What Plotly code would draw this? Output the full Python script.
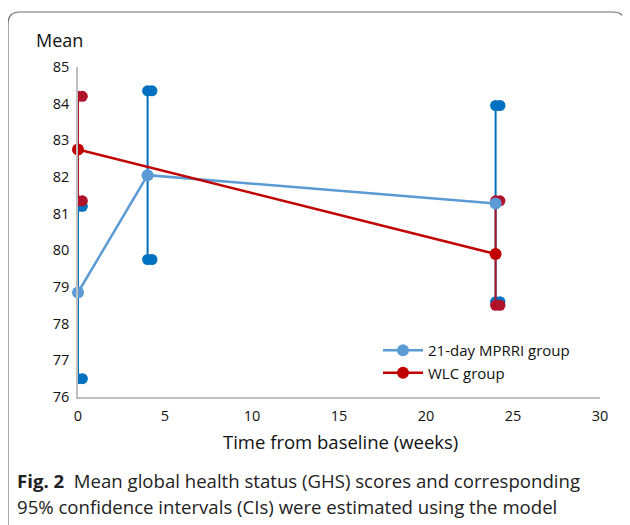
import plotly.graph_objects as go

# Data
weeks_mprri = [0, 4, 24]
mean_mprri = [78.85, 82.05, 81.28]
ci_low_mprri = [76.5, 79.75, 78.6]
ci_high_mprri = [81.2, 84.35, 83.95]

weeks_wlc = [0, 24]
mean_wlc = [82.75, 79.9]
ci_low_wlc = [81.35, 78.5]
ci_high_wlc = [84.2, 81.35]

x_ticks = [0, 5, 10, 15, 20, 25, 30]
y_ticks = [76, 77, 78, 79, 80, 81, 82, 83, 84, 85]

BLUE_MEAN = "#5B9BD5"
BLUE_CI = "#0070C0"
RED = "#C00000"
RED_CI = "#B0122A"
FONT = "Open Sans"

fig = go.Figure()


def add_ci(xs, lows, highs, color, offset=0.25):
    lx, ly = [], []
    for x, lo, hi in zip(xs, lows, highs):
        lx += [x, x, None]
        ly += [lo, hi, None]
    fig.add_trace(go.Scatter(x=lx, y=ly, mode="lines", line=dict(color=color, width=2),
                             showlegend=False, hoverinfo="skip"))
    mx, my = [], []
    for x, lo, hi in zip(xs, lows, highs):
        mx += [x, x + offset, x, x + offset]
        my += [lo, lo, hi, hi]
    fig.add_trace(go.Scatter(x=mx, y=my, mode="markers",
                             marker=dict(color=color, size=11),
                             showlegend=False, hoverinfo="skip", cliponaxis=True))


add_ci(weeks_mprri, ci_low_mprri, ci_high_mprri, BLUE_CI)
add_ci(weeks_wlc, ci_low_wlc, ci_high_wlc, RED_CI)

fig.add_trace(go.Scatter(x=weeks_mprri, y=mean_mprri, mode="lines+markers",
                         name="21-day MPRRI group",
                         line=dict(color=BLUE_MEAN, width=2.5),
                         marker=dict(color=BLUE_MEAN, size=12), cliponaxis=False))
fig.add_trace(go.Scatter(x=weeks_wlc, y=mean_wlc, mode="lines+markers",
                         name="WLC group",
                         line=dict(color=RED, width=2.5),
                         marker=dict(color=RED, size=12), cliponaxis=False))

# page has an 8px body margin; target coordinates are page pixels
OFF = 8
W, H = 630 - OFF, 525 - OFF
PL, PR, PT, PB = 78, 600, 67, 397  # plot area in page pixels
L, R, T, B = PL - OFF, 630 - PR, PT - OFF, 525 - PB
pw, ph = PR - PL, PB - PT


def px(x):
    return (x - PL) / pw


def py(y):
    return (PB - y) / ph


# rounded frame
x0, x1, y0, y1, r = 8, 625, 12, 545, 12
path = (f"M {px(x0)},{py(y1)} L {px(x0)},{py(y0 + r)} "
        f"Q {px(x0)},{py(y0)} {px(x0 + r)},{py(y0)} "
        f"L {px(x1 - r)},{py(y0)} Q {px(x1)},{py(y0)} {px(x1)},{py(y0 + r)} "
        f"L {px(x1)},{py(y1)}")
fig.add_shape(type="path", xref="paper", yref="paper", path=path,
              line=dict(color="#6e6e6e", width=1.2))

fig.add_annotation(xref="paper", yref="paper", x=px(34), y=py(40), text="Mean",
                   showarrow=False, xanchor="left", yanchor="middle",
                   font=dict(family=FONT, size=18, color="#111"))

fig.add_annotation(xref="paper", yref="paper", x=px(340), y=py(441),
                   text="Time from baseline (weeks)",
                   showarrow=False, xanchor="center", yanchor="middle",
                   font=dict(family=FONT, size=18.5, color="#111"))

fig.add_annotation(xref="paper", yref="paper", x=px(15), y=py(481),
                   text="<b>Fig. 2</b>  Mean global health status (GHS) scores and corresponding",
                   showarrow=False, xanchor="left", yanchor="middle",
                   font=dict(family=FONT, size=18.6, color="#222"))
fig.add_annotation(xref="paper", yref="paper", x=px(15), y=py(506),
                   text="95% confidence intervals (CIs) were estimated using the model",
                   showarrow=False, xanchor="left", yanchor="middle",
                   font=dict(family=FONT, size=18.6, color="#222"))

fig.update_layout(
    width=W, height=H,
    margin=dict(l=L, r=R, t=T, b=B, autoexpand=False),
    paper_bgcolor="white", plot_bgcolor="white",
    font=dict(family=FONT, size=13, color="#111"),
    showlegend=True,
    legend=dict(x=px(378), y=py(334), xanchor="left", yanchor="top",
                bgcolor="rgba(0,0,0,0)", font=dict(family=FONT, size=15, color="#111"),
                tracegroupgap=0, itemwidth=40),
    xaxis=dict(range=[0, 30], tickvals=x_ticks, showgrid=False, zeroline=False,
               showline=True, linecolor="#bfbfbf", linewidth=1.5, ticks="",
               ticklabelstandoff=5, tickfont=dict(size=14.5)),
    yaxis=dict(range=[76, 85], tickvals=y_ticks, showgrid=False, zeroline=False,
               showline=True, linecolor="#bfbfbf", linewidth=1.5, ticks="",
               ticklabelstandoff=4, tickfont=dict(size=14.5)),
)

fig.write_html("out.html")
